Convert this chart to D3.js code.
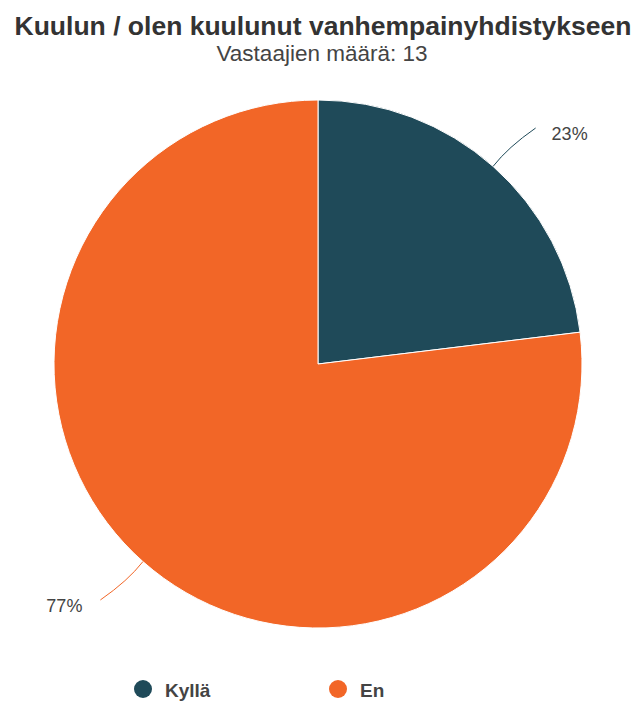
<!DOCTYPE html>
<html>
<head>
    <meta charset="utf-8">
    <title>Kuulun / olen kuulunut vanhempainyhdistykseen</title>
    <script src="https://d3js.org/d3.v7.min.js"></script>
    <style>
        body { margin: 0; background: #fff; }
        text { font-family: "Liberation Sans", Arial, sans-serif; }
    </style>
</head>
<body>
<svg width="640" height="704"></svg>
<script>
    const categories = ["Kyllä", "En"];
    const counts = [3, 10];
    const percentLabels = ["23%", "77%"];
    const colors = ["#1f4a59", "#f26627"];

    let svg = d3.select("svg");

    svg.append("text")
        .attr("x", 323).attr("y", 35)
        .attr("text-anchor", "middle")
        .attr("font-size", 26.5).attr("font-weight", "bold")
        .attr("fill", "#333")
        .text("Kuulun / olen kuulunut vanhempainyhdistykseen");

    svg.append("text")
        .attr("x", 322).attr("y", 61)
        .attr("text-anchor", "middle")
        .attr("font-size", 22.5)
        .attr("fill", "#444")
        .text("Vastaajien määrä: 13");

    const cx = 318, cy = 364, r = 264;
    let g = svg.append("g").attr("transform", `translate(${cx},${cy})`);

    let pie = d3.pie().sort(null).value(d => d);
    let arcs = pie(counts);
    let arc = d3.arc().innerRadius(0).outerRadius(r);

    g.selectAll("path.slice")
        .data(arcs)
        .enter().append("path")
        .attr("class", "slice")
        .attr("d", arc)
        .attr("fill", (d, i) => colors[i])
        .attr("stroke", "#fff")
        .attr("stroke-width", 1);

    // leader lines, slightly curved
    function pt(a, rad) { return [rad * Math.sin(a), -rad * Math.cos(a)]; }
    arcs.forEach((d, i) => {
        let mid = (d.startAngle + d.endAngle) / 2;
        let p0 = pt(mid, r);
        let p1 = pt(mid + 0.01, r + 28);
        let p2 = pt(mid + 0.02, r + 57);
        g.append("path")
            .attr("d", `M${p0[0]},${p0[1]}Q${p1[0] + (i ? 6 : -6)},${p1[1]} ${p2[0]},${p2[1]}`)
            .attr("fill", "none")
            .attr("stroke", colors[i])
            .attr("stroke-width", 1);
        let right = p2[0] > 0;
        g.append("text")
            .attr("x", p2[0] + (right ? 16 : -18))
            .attr("y", p2[1] + 12)
            .attr("text-anchor", right ? "start" : "end")
            .attr("font-size", 18)
            .attr("fill", "#444")
            .text(percentLabels[i]);
    });

    // legend
    const legendX = [143, 338];
    let legend = svg.selectAll("g.legend")
        .data(categories)
        .enter().append("g")
        .attr("class", "legend")
        .attr("transform", (d, i) => `translate(${legendX[i]},689)`);
    legend.append("circle")
        .attr("r", 9)
        .attr("fill", (d, i) => colors[i]);
    legend.append("text")
        .attr("x", 22).attr("y", 8)
        .attr("font-size", 19).attr("font-weight", "bold")
        .attr("fill", "#444")
        .text(d => d);
</script>
</body>
</html>
